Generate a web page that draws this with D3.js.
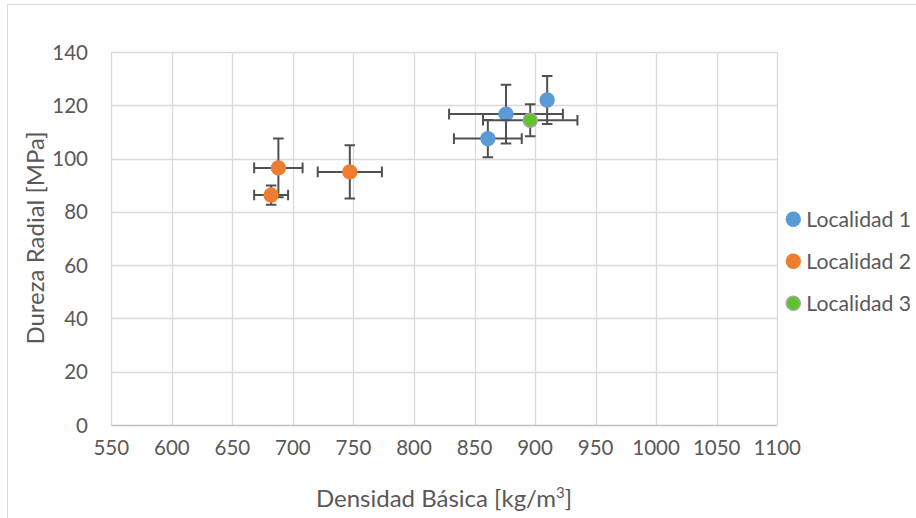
<!DOCTYPE html>
<html><head><meta charset="utf-8">
<script src="https://cdn.jsdelivr.net/npm/d3@7/dist/d3.min.js"></script>
<style>body{margin:0;background:#fff}svg{display:block}text{font-family:Lato,"Liberation Sans",sans-serif;fill:#595959}</style>
</head><body><svg id="c" width="916" height="518"></svg>
<script>
const seriesNames = ["Localidad 1", "Localidad 2", "Localidad 3"];
const seriesColors = ["#5b9bd5", "#ed7d31", "#5fc42c"];
const loc1X = [876, 861, 910], loc1Y = [116.7, 107.5, 122], loc1XErr = [47, 28, 2], loc1YErr = [11, 7, 9];
const loc2X = [688, 682, 747], loc2Y = [96.5, 86.3, 95], loc2XErr = [20, 14, 26.5], loc2YErr = [11, 3.6, 10];
const loc3X = [896], loc3Y = [114.4], loc3XErr = [39], loc3YErr = [6];
const xTicks = [550,600,650,700,750,800,850,900,950,1000,1050,1100];
const yTicks = [0,20,40,60,80,100,120,140];

const series = [
  {x: loc1X, y: loc1Y, ex: loc1XErr, ey: loc1YErr},
  {x: loc2X, y: loc2Y, ex: loc2XErr, ey: loc2YErr},
  {x: loc3X, y: loc3Y, ex: loc3XErr, ey: loc3YErr}
];

const svg = d3.select("#c");
const L = 111.3, R = 777.2, T = 52, B = 425;
const x = d3.scaleLinear().domain([550, 1100]).range([L, R]);
const y = d3.scaleLinear().domain([0, 140]).range([B, T]);

svg.append("rect").attr("x", 7.5).attr("y", 4.5).attr("width", 1000).attr("height", 1000)
  .attr("fill", "none").attr("stroke", "#d9d9d9");

// grid
svg.append("g").selectAll("line").data(xTicks).join("line")
  .attr("x1", d => Math.round(x(d)) + 0.5).attr("x2", d => Math.round(x(d)) + 0.5)
  .attr("y1", T).attr("y2", B).attr("stroke", "#d9d9d9").attr("stroke-width", 1.3);
svg.append("g").selectAll("line").data(yTicks.filter(d => d > 0)).join("line")
  .attr("x1", L).attr("x2", R)
  .attr("y1", d => Math.round(y(d)) + 0.5).attr("y2", d => Math.round(y(d)) + 0.5)
  .attr("stroke", "#d9d9d9").attr("stroke-width", 1.3);
svg.append("line").attr("x1", L).attr("x2", R).attr("y1", B + 0.5).attr("y2", B + 0.5)
  .attr("stroke", "#bfbfbf").attr("stroke-width", 1.3);

// tick labels
svg.append("g").selectAll("text").data(yTicks).join("text")
  .attr("x", 88).attr("y", d => y(d) + 7.5).attr("text-anchor", "end")
  .attr("font-size", 20.5).text(d => d);
svg.append("g").selectAll("text").data(xTicks).join("text")
  .attr("x", d => x(d)).attr("y", 455).attr("text-anchor", "middle")
  .attr("font-size", 20.5).text(d => d);

// axis titles
const xt = svg.append("text").attr("x", 444).attr("y", 507).attr("text-anchor", "middle").attr("font-size", 24);
xt.append("tspan").text("Densidad Básica [kg/m");
xt.append("tspan").attr("font-size", 15).attr("dy", -9).text("3");
xt.append("tspan").attr("dy", 9).text("]");
svg.append("text").attr("transform", "translate(44,238) rotate(-90)").attr("text-anchor", "middle")
  .attr("font-size", 24).text("Dureza Radial [MPa]");

// error bars and markers
const cap = 5.3, ecol = "#505050";
series.forEach((s, si) => {
  const g = svg.append("g");
  s.x.forEach((xv, i) => {
    const yv = s.y[i], ex = s.ex[i], ey = s.ey[i];
    const cx = x(xv), cy = y(yv);
    const x0 = x(xv - ex), x1 = x(xv + ex), y0 = y(yv - ey), y1 = y(yv + ey);
    const p = `M${x0},${cy}H${x1}M${x0},${cy - cap}V${cy + cap}M${x1},${cy - cap}V${cy + cap}` +
              `M${cx},${y0}V${y1}M${cx - cap},${y0}H${cx + cap}M${cx - cap},${y1}H${cx + cap}`;
    g.append("path").attr("d", p).attr("stroke", ecol).attr("stroke-width", 2).attr("fill", "none");
  });
  g.selectAll("circle").data(s.x).join("circle")
    .attr("cx", d => x(d)).attr("cy", (d, i) => y(s.y[i])).attr("r", si === 2 ? 7 : 7.7)
    .attr("fill", seriesColors[si])
    .attr("stroke", si === 2 ? "#a5a5a5" : "none").attr("stroke-width", 1.6);
});

// legend
const lg = svg.append("g").selectAll("g").data(seriesNames).join("g")
  .attr("transform", (d, i) => `translate(793.3,${219.3 + i * 42})`);
lg.append("circle").attr("r", (d, i) => i === 2 ? 7 : 7.7).attr("fill", (d, i) => seriesColors[i])
  .attr("stroke", (d, i) => i === 2 ? "#a5a5a5" : "none").attr("stroke-width", 1.6);
lg.append("text").attr("x", 13).attr("y", 7.5).attr("font-size", 21.2).text(d => d);
</script></body></html>
